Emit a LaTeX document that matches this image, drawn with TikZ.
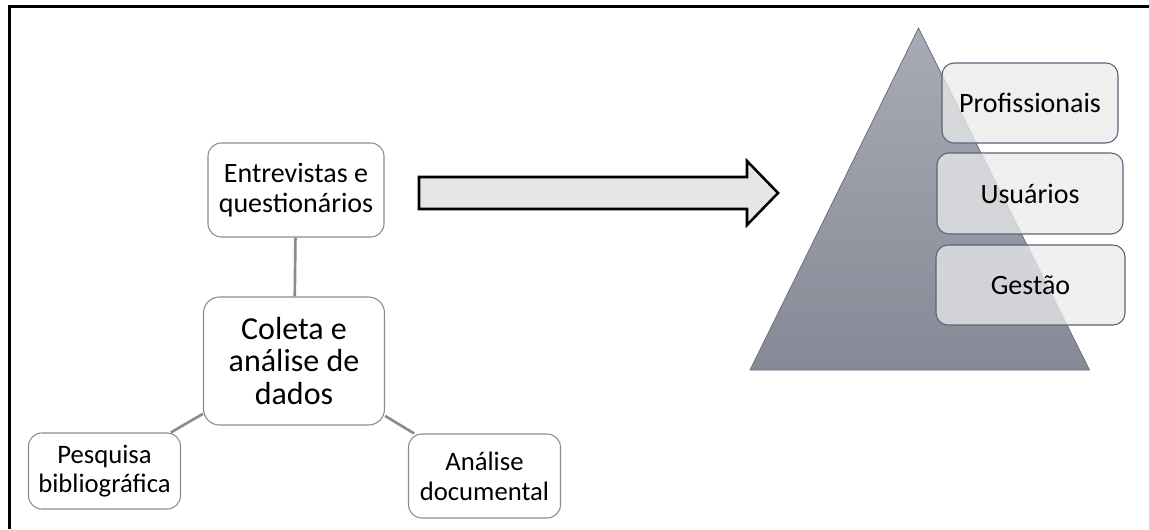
\documentclass[tikz,border=0pt]{standalone}
\usepackage{fontspec}
\setmainfont{Carlito}
\usepackage{xcolor}
\usetikzlibrary{shapes,calc}
\definecolor{lineGray}{RGB}{140,140,140}
\definecolor{arrowFill}{RGB}{230,230,230}
\definecolor{pyrTop}{RGB}{166,171,181}
\definecolor{pyrBot}{RGB}{133,138,150}
\definecolor{pyrEdge}{RGB}{108,112,122}
\definecolor{levelEdge}{RGB}{86,100,122}
\definecolor{levelFill}{RGB}{234,234,234}

\begin{document}
\begin{tikzpicture}[x=0.75pt,y=-0.75pt,
    box/.style={draw=lineGray,line width=0.8pt,fill=white,rounded corners=10pt,align=center,inner sep=0pt,font=\fontsize{20}{22}\selectfont},
    level/.style={draw=levelEdge,line width=0.8pt,fill=levelFill,fill opacity=0.75,text opacity=1,rounded corners=9pt,inner sep=0pt,minimum height=60pt,font=\fontsize{21}{24}\selectfont},
    link/.style={draw=lineGray,line width=2pt}]
    \useasboundingbox (0,0) rectangle (1149,529);
    % frame
    \draw[line width=2.25pt,line join=miter] (9.5,529) -- (9.5,6.5) -- (1149,6.5);

    % left part
    \node[box,minimum width=132pt,minimum height=70.5pt,font=\fontsize{21}{22.5}\selectfont] (entrev) at (296,190) {Entrevistas e\\questionários};
    \node[box,minimum width=135.75pt,minimum height=96pt,font=\fontsize{24}{24.75}\selectfont,rounded corners=12pt] (coleta) at (294,361) {Coleta e\\análise de\\dados};
    \node[box,minimum width=114pt,minimum height=57pt,font=\fontsize{20}{21.75}\selectfont] (pesq) at (104.5,471) {Pesquisa\\bibliográfica};
    \node[box,minimum width=114pt,minimum height=63pt,font=\fontsize{20}{22.5}\selectfont] (analise) at (484.5,476) {Análise\\documental};
    \draw[link] (entrev) -- (coleta);
    \draw[link] (coleta) -- (pesq);
    \draw[link] (coleta) -- (analise);

    % block arrow
    \draw[line width=1.9pt,fill=arrowFill,line join=miter] (419,177) -- (747,177) -- (747,161) -- (778,193) -- (747,225) -- (747,209) -- (419,209) -- cycle;

    % pyramid
    \shadedraw[top color=pyrTop,bottom color=pyrBot,draw=pyrEdge,line width=0.6pt] (918.5,28) -- (1089.5,370) -- (750,370) -- cycle;
    \node[level,minimum width=132pt] (prof) at (1030,103) {Profissionais};
    \node[level,minimum width=139.5pt,minimum height=60.75pt] (usu) at (1030,193.5) {Usuários};
    \node[level,minimum width=141.75pt] (gest) at (1030.5,285) {Gestão};
\end{tikzpicture}
\end{document}
